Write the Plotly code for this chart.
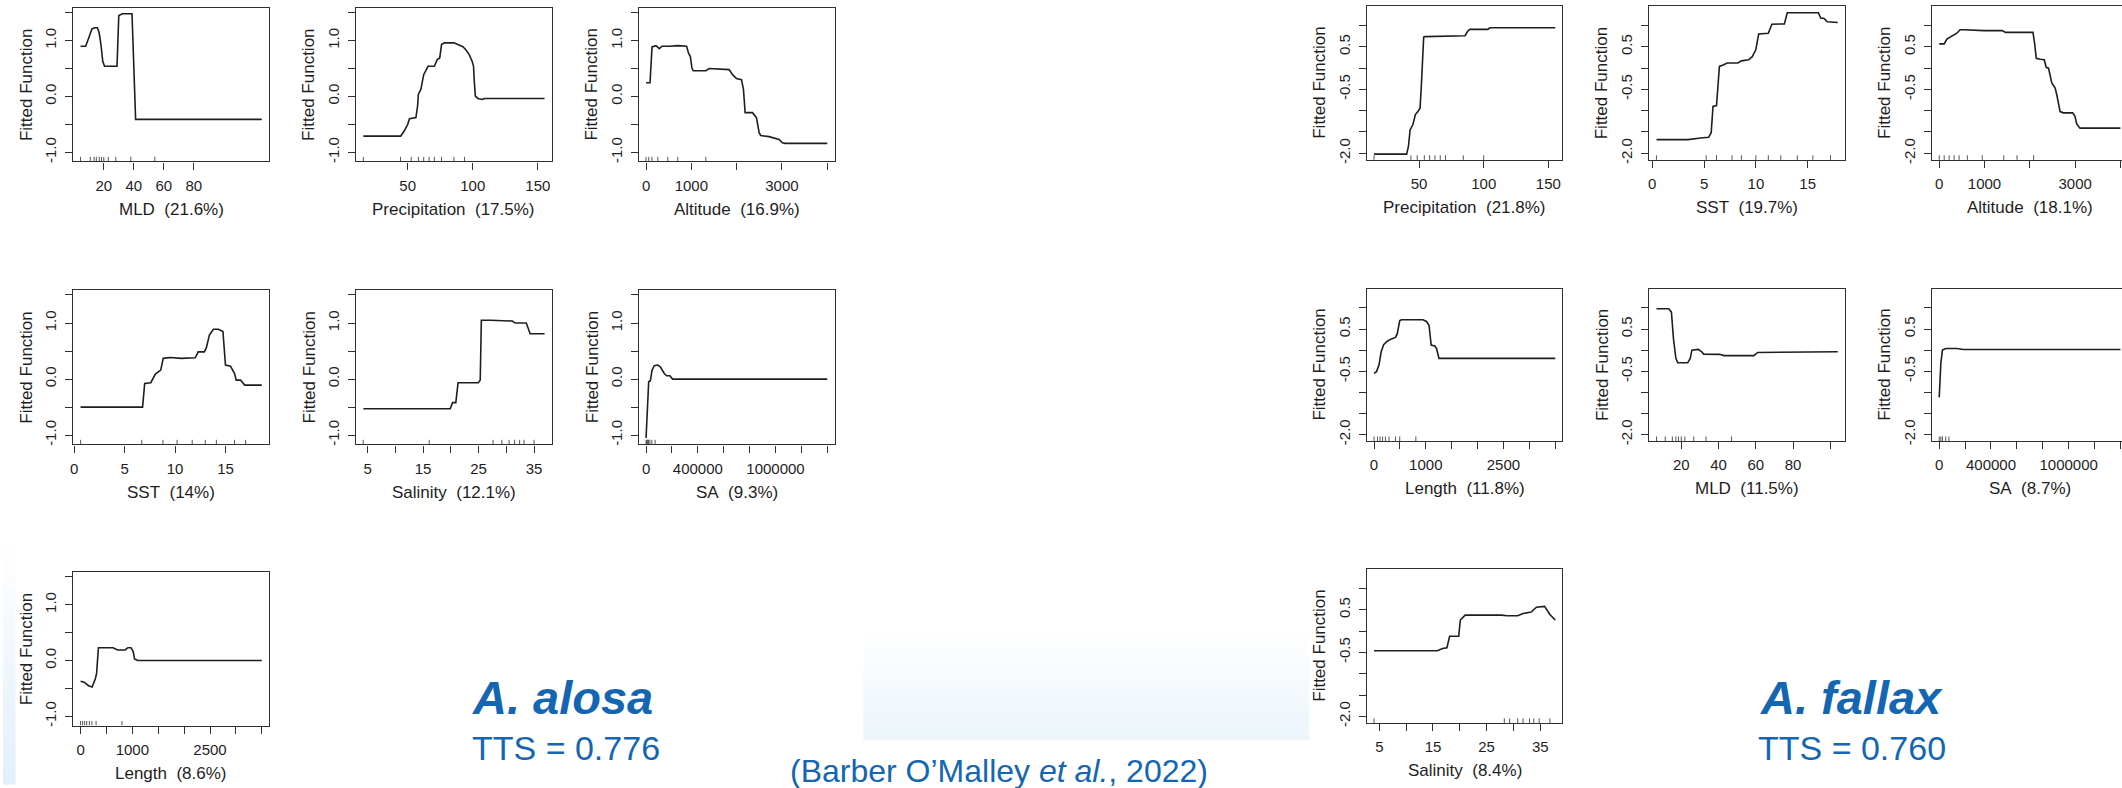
import plotly.graph_objects as go

W, H = 2122, 788

# ---------------- A. alosa : fitted functions ----------------
alosa_mld_x = [4.5, 7.9, 10.0, 11.0, 12.1, 14.0, 15.7, 16.9, 18.1, 19.3, 20.5, 28.8, 30.0, 32.4, 38.8, 41.2, 125.3]
alosa_mld_y = [0.90, 0.90, 1.05, 1.14, 1.21, 1.23, 1.23, 1.14, 0.93, 0.63, 0.54, 0.54, 1.45, 1.48, 1.48, -0.41, -0.41]
alosa_mld_rug = [4.5, 11, 13.5, 15, 17, 18.5, 20, 23, 28, 38, 54]

alosa_precip_x = [15.9, 44.6, 47.3, 50.0, 51.4, 56.3, 57.6, 58.2, 60.1, 62.3, 65.6, 70.5, 72.7, 74.6, 76.0, 78.1,
                  85.5, 88.3, 92.4, 94.5, 97.3, 99.5, 100.6, 101.1, 102.0, 103.9, 107.4, 108.8, 155.2]
alosa_precip_y = [-0.71, -0.71, -0.62, -0.50, -0.40, -0.38, -0.17, 0.04, 0.125, 0.39, 0.54, 0.54, 0.66, 0.69, 0.93, 0.96,
                  0.96, 0.93, 0.89, 0.84, 0.75, 0.63, 0.54, 0.30, 0.006, -0.036, -0.054, -0.036, -0.036]
alosa_precip_rug = [15.9, 44.5, 52.7, 58.2, 62.3, 66.4, 70.5, 76, 85.5, 93.7]

alosa_alt_x = [0, 88, 132, 220, 293, 352, 514, 697, 895, 940, 976, 1013, 1042, 1321, 1394, 1835, 1908, 1996, 2106,
               2150, 2187, 2349, 2437, 2496, 2532, 2716, 2936, 3009, 3068, 4000]
alosa_alt_y = [0.244, 0.244, 0.887, 0.91, 0.857, 0.90, 0.90, 0.91, 0.90, 0.77, 0.72, 0.51, 0.46, 0.46, 0.50, 0.48,
               0.39, 0.32, 0.30, 0.125, -0.29, -0.29, -0.38, -0.65, -0.70, -0.72, -0.77, -0.83, -0.84, -0.84]
alosa_alt_rug = [0, 60, 130, 260, 480, 700, 1320]

alosa_sst_x = [0.63, 6.78, 6.99, 7.59, 8.05, 8.3, 8.58, 8.83, 9.53, 10.6, 12.0, 12.3, 12.9, 13.1, 13.4, 13.8, 14.3,
               14.75, 15.0, 15.5, 15.9, 16.07, 16.5, 16.9, 18.6]
alosa_sst_y = [-0.50, -0.50, -0.077, -0.065, 0.089, 0.13, 0.16, 0.37, 0.385, 0.37, 0.38, 0.485, 0.485, 0.556, 0.78,
               0.89, 0.89, 0.85, 0.25, 0.23, 0.10, -0.018, -0.018, -0.107, -0.107]
alosa_sst_rug = [0.64, 6.7, 8.8, 10.2, 11.7, 13.0, 14.1, 15.9, 17.0]

alosa_sal_x = [4.23, 19.9, 20.3, 20.9, 21.3, 24.97, 25.3, 25.5, 27.2, 31.1, 31.6, 33.6, 34.3, 36.9]
alosa_sal_y = [-0.53, -0.53, -0.42, -0.42, -0.065, -0.065, -0.018, 1.05, 1.05, 1.035, 1.0, 1.0, 0.81, 0.81]
alosa_sal_rug = [4.2, 16.1, 27.6, 29.2, 30.5, 31.5, 32.4, 33.2, 35.0]

alosa_sa_x = [0, 12800, 20500, 33300, 46100, 64000, 89600, 110000, 141000, 159000, 184000, 205000, 1400000]
alosa_sa_y = [-1.05, -0.28, -0.047, -0.03, 0.16, 0.24, 0.25, 0.22, 0.10, 0.06, 0.06, 0.0, 0.0]
alosa_sa_rug = [0, 5000, 10000, 15000, 20000, 30000, 45000, 70000]

alosa_len_x = [0, 69, 155, 224, 284, 310, 345, 629, 716, 862, 914, 974, 1017, 1043, 1103, 3500]
alosa_len_y = [-0.37, -0.386, -0.45, -0.475, -0.33, -0.23, 0.23, 0.23, 0.19, 0.19, 0.23, 0.23, 0.16, 0.03, 0.0, 0.0]
alosa_len_rug = [0, 40, 80, 120, 170, 220, 300, 800]

# ---------------- A. fallax : fitted functions ----------------
fallax_precip_x = [15.2, 40.4, 41.8, 43.1, 45.2, 47.2, 49.1, 50.8, 51.9, 53.6, 54.6, 85.6, 87.5, 89.1, 103.3, 104.7, 155.3]
fallax_precip_y = [-2.02, -2.02, -1.84, -1.45, -1.33, -1.09, -1.02, -0.94, -0.35, 0.73, 0.74, 0.76, 0.86, 0.91, 0.91,
                   0.95, 0.95]
fallax_precip_rug = [15.2, 43.7, 48.6, 54.1, 58.2, 62.3, 66.4, 70.5, 84.2, 100]

fallax_sst_x = [0.41, 3.45, 4.65, 5.44, 5.69, 5.86, 6.2, 6.48, 6.9, 7.24, 8.27, 8.6, 9.3, 9.65, 9.99, 10.27, 11.2,
                11.54, 12.75, 13.03, 16.03, 16.27, 16.55, 16.9, 17.9]
fallax_sst_y = [-1.68, -1.68, -1.64, -1.625, -1.51, -0.90, -0.88, 0.04, 0.08, 0.12, 0.12, 0.17, 0.195, 0.27, 0.43,
                0.80, 0.82, 1.03, 1.04, 1.30, 1.30, 1.17, 1.17, 1.09, 1.07]
fallax_sst_rug = [0.4, 5.2, 6.2, 7.7, 8.6, 10.0, 11.2, 12.4, 14.0, 15.5, 17.2]

fallax_alt_x = [0, 110, 169, 241, 315, 388, 461, 548, 987, 1390, 1462, 1609, 1754, 2069, 2105, 2142, 2230, 2318,
                2361, 2412, 2485, 2559, 2595, 2668, 2741, 2946, 2997, 3035, 3107, 4000]
fallax_alt_y = [0.57, 0.57, 0.68, 0.73, 0.78, 0.82, 0.90, 0.90, 0.88, 0.88, 0.84, 0.84, 0.85, 0.84, 0.59, 0.23, 0.21,
                0.195, 0.02, 0.0, -0.35, -0.47, -0.625, -1.02, -1.05, -1.05, -1.13, -1.31, -1.41, -1.41]
fallax_alt_rug = [0, 110, 219, 329, 439, 621, 950, 1425, 1718, 2083]

fallax_len_x = [0, 48, 97, 138, 186, 255, 324, 414, 449, 497, 531, 945, 1014, 1062, 1104, 1173, 1207, 1255, 3500]
fallax_len_y = [-0.55, -0.51, -0.35, -0.04, 0.13, 0.21, 0.26, 0.30, 0.39, 0.70, 0.72, 0.72, 0.68, 0.59, 0.12, 0.10,
                0.04, -0.195, -0.195]
fallax_len_rug = [0, 69, 117, 166, 221, 290, 414, 497, 808]

fallax_mld_x = [6.7, 13.3, 14.7, 15.8, 17.1, 18.1, 23.4, 24.8, 25.7, 29.1, 31.0, 32.0, 40.6, 42.9, 59.0, 61.0, 104]
fallax_mld_y = [0.98, 0.98, 0.90, 0.27, -0.195, -0.30, -0.30, -0.195, 0.0, 0.016, -0.04, -0.094, -0.10, -0.13, -0.13,
                -0.055, -0.04]
fallax_mld_rug = [6.7, 11.4, 15.2, 17.1, 18.5, 20, 21.9, 26.7, 33.3, 47]

fallax_sa_x = [0, 12500, 25000, 50000, 137500, 187500, 1400000]
fallax_sa_y = [-1.12, -0.31, 0.0, 0.04, 0.04, 0.016, 0.016]
fallax_sa_rug = [0, 12500, 25000, 50000, 75000]

fallax_sal_x = [4.0, 15.8, 16.8, 17.6, 18.1, 19.8, 20.1, 21.0, 27.8, 28.8, 30.8, 31.8, 33.3, 34.3, 35.8, 36.8, 37.8]
fallax_sal_y = [-0.46, -0.46, -0.41, -0.39, -0.12, -0.12, 0.26, 0.375, 0.375, 0.36, 0.36, 0.41, 0.445, 0.56, 0.58,
                0.39, 0.26]
fallax_sal_rug = [4.0, 28.3, 29.3, 30.8, 31.8, 33.0, 33.8, 34.8, 36.8]

# ---------------- tick labels ----------------
alosa_y_ticks = [-1.0, -0.5, 0.0, 0.5, 1.0, 1.5]
alosa_y_labels = ["-1.0", "", "0.0", "", "1.0", ""]
fallax_y_ticks = [-2.0, -1.5, -1.0, -0.5, 0.0, 0.5, 1.0]
fallax_y_labels = ["-2.0", "", "", "-0.5", "", "0.5", ""]

mld_ticks_a = [20, 40, 60, 80]
mld_labels_a = ["20", "40", "60", "80"]
mld_ticks_f = [20, 40, 60, 80, 100]
mld_labels_f = ["20", "40", "60", "80", ""]
precip_ticks = [50, 100, 150]
precip_labels = ["50", "100", "150"]
alt_ticks = [0, 1000, 2000, 3000, 4000]
alt_labels = ["0", "1000", "", "3000", ""]
sst_ticks = [0, 5, 10, 15]
sst_labels = ["0", "5", "10", "15"]
sal_ticks = [5, 10, 15, 20, 25, 30, 35]
sal_labels = ["5", "", "15", "", "25", "", "35"]
sa_ticks = [0, 200000, 400000, 600000, 800000, 1000000, 1200000, 1400000]
sa_labels = ["0", "", "400000", "", "", "1000000", "", ""]
len_ticks = [0, 500, 1000, 1500, 2000, 2500, 3000, 3500]
len_labels = ["0", "", "1000", "", "", "2500", "", ""]

# ---------------- panel layout (pixel boxes) ----------------
ALOSA_YR = [-1.165, 1.585]
FALLAX_YR = [-2.155, 1.46]
LCOL = [70.4, 353.6, 636.7]
RCOL = [1365.7, 1648.6, 1931.7]
BOXW = 196.0
LROW = [(8.0, 162.3), (291.7, 446.7), (575.0, 729.3)]
RROW = [(6.0, 160.7), (290.0, 443.3), (571.7, 726.7)]

panels = [
    (alosa_mld_x, alosa_mld_y, alosa_mld_rug, mld_ticks_a, mld_labels_a, "MLD  (21.6%)", LCOL[0], LROW[0], ALOSA_YR, alosa_y_ticks, alosa_y_labels),
    (alosa_precip_x, alosa_precip_y, alosa_precip_rug, precip_ticks, precip_labels, "Precipitation  (17.5%)", LCOL[1], LROW[0], ALOSA_YR, alosa_y_ticks, alosa_y_labels),
    (alosa_alt_x, alosa_alt_y, alosa_alt_rug, alt_ticks, alt_labels, "Altitude  (16.9%)", LCOL[2], LROW[0], ALOSA_YR, alosa_y_ticks, alosa_y_labels),
    (alosa_sst_x, alosa_sst_y, alosa_sst_rug, sst_ticks, sst_labels, "SST  (14%)", LCOL[0], LROW[1], ALOSA_YR, alosa_y_ticks, alosa_y_labels),
    (alosa_sal_x, alosa_sal_y, alosa_sal_rug, sal_ticks, sal_labels, "Salinity  (12.1%)", LCOL[1], LROW[1], ALOSA_YR, alosa_y_ticks, alosa_y_labels),
    (alosa_sa_x, alosa_sa_y, alosa_sa_rug, sa_ticks, sa_labels, "SA  (9.3%)", LCOL[2], LROW[1], ALOSA_YR, alosa_y_ticks, alosa_y_labels),
    (alosa_len_x, alosa_len_y, alosa_len_rug, len_ticks, len_labels, "Length  (8.6%)", LCOL[0], LROW[2], ALOSA_YR, alosa_y_ticks, alosa_y_labels),
    (fallax_precip_x, fallax_precip_y, fallax_precip_rug, precip_ticks, precip_labels, "Precipitation  (21.8%)", RCOL[0], RROW[0], FALLAX_YR, fallax_y_ticks, fallax_y_labels),
    (fallax_sst_x, fallax_sst_y, fallax_sst_rug, sst_ticks, sst_labels, "SST  (19.7%)", RCOL[1], RROW[0], FALLAX_YR, fallax_y_ticks, fallax_y_labels),
    (fallax_alt_x, fallax_alt_y, fallax_alt_rug, alt_ticks, alt_labels, "Altitude  (18.1%)", RCOL[2], RROW[0], FALLAX_YR, fallax_y_ticks, fallax_y_labels),
    (fallax_len_x, fallax_len_y, fallax_len_rug, len_ticks, len_labels, "Length  (11.8%)", RCOL[0], RROW[1], FALLAX_YR, fallax_y_ticks, fallax_y_labels),
    (fallax_mld_x, fallax_mld_y, fallax_mld_rug, mld_ticks_f, mld_labels_f, "MLD  (11.5%)", RCOL[1], RROW[1], FALLAX_YR, fallax_y_ticks, fallax_y_labels),
    (fallax_sa_x, fallax_sa_y, fallax_sa_rug, sa_ticks, sa_labels, "SA  (8.7%)", RCOL[2], RROW[1], FALLAX_YR, fallax_y_ticks, fallax_y_labels),
    (fallax_sal_x, fallax_sal_y, fallax_sal_rug, sal_ticks, sal_labels, "Salinity  (8.4%)", RCOL[0], RROW[2], FALLAX_YR, fallax_y_ticks, fallax_y_labels),
]

FONT = "Arial, Liberation Sans, sans-serif"
NARROW = "Liberation Sans Narrow, Arial Narrow, Arial, sans-serif"
INK = "#1e1e1e"
FRAME = "#303030"
BLUE = "#1466b2"

fig = go.Figure()
layout = dict(
    width=W, height=H, margin=dict(l=0, r=0, t=0, b=0),
    paper_bgcolor="white", plot_bgcolor="white", showlegend=False,
    font=dict(family=FONT, color=INK),
)
annotations = []
shapes = []


def fx(p):
    return p / W


def fy(p):
    return 1 - p / H


for i, (xs, ys, rug, xt, xl, title, left, (top, bot), yr, yt, yl) in enumerate(panels, start=1):
    sfx = "" if i == 1 else str(i)
    # R-style 4% extension of the data range
    lo, hi = min(xs), max(xs)
    pad = 0.04 * (hi - lo)
    xr = [lo - pad, hi + pad]
    right = left + BOXW
    box_cx = left + BOXW / 2
    clipped = right > W
    if clipped:
        frac = (W - left) / BOXW
        xr = [xr[0], xr[0] + frac * (xr[1] - xr[0])]
        right = W

    layout["xaxis" + sfx] = dict(
        domain=[fx(left), fx(right)], anchor="y" + sfx, range=xr,
        showline=True, linecolor=FRAME, linewidth=1.4, mirror=True,
        ticks="outside", ticklen=7, tickwidth=1.2, tickcolor=FRAME,
        tickmode="array", tickvals=xt, ticktext=xl,
        tickfont=dict(size=15, family=FONT, color=INK), ticklabelstandoff=3,
        showgrid=False, zeroline=False,
    )
    layout["yaxis" + sfx] = dict(
        domain=[fy(bot), fy(top)], anchor="x" + sfx, range=yr,
        showline=True, linecolor=FRAME, linewidth=1.4, mirror=not clipped,
        ticks="outside", ticklen=7, tickwidth=1.2, tickcolor=FRAME,
        tickmode="array", tickvals=yt, ticktext=yl, tickangle=-90,
        tickfont=dict(size=15, family=FONT, color=INK), ticklabelstandoff=3,
        showgrid=False, zeroline=False,
    )

    # fitted function
    fig.add_trace(go.Scatter(
        x=xs, y=ys, mode="lines", xaxis="x" + sfx, yaxis="y" + sfx,
        line=dict(color=INK, width=1.6), hoverinfo="skip",
    ))
    # rug of predictor deciles along the bottom
    rh = 0.03 * (yr[1] - yr[0])
    rx, ry = [], []
    for v in rug:
        rx += [v, v, None]
        ry += [yr[0], yr[0] + rh, None]
    fig.add_trace(go.Scatter(
        x=rx, y=ry, mode="lines", xaxis="x" + sfx, yaxis="y" + sfx,
        line=dict(color="#555555", width=1), hoverinfo="skip",
    ))

    annotations.append(dict(
        text="Fitted Function", xref="paper", yref="paper",
        x=fx(left - 47), y=fy((top + bot) / 2), textangle=-90,
        showarrow=False, xanchor="center", yanchor="middle",
        font=dict(size=17, family=FONT, color=INK),
    ))
    annotations.append(dict(
        text=title.replace("  ", "\u00a0 "), xref="paper", yref="paper",
        x=fx(box_cx), y=fy(bot + 48), showarrow=False,
        xanchor="center", yanchor="middle",
        font=dict(size=17, family=FONT, color=INK),
    ))

# species labels and skill scores
annotations += [
    dict(text="<b><i>A. alosa</i></b>", x=fx(468), y=fy(701), xanchor="left", yanchor="middle",
         font=dict(size=47, family=FONT, color=BLUE)),
    dict(text="TTS = 0.776", x=fx(468), y=fy(752), xanchor="left", yanchor="middle",
         font=dict(size=34, family=FONT, color=BLUE)),
    dict(text="<b><i>A. fallax</i></b>", x=fx(1757), y=fy(701), xanchor="left", yanchor="middle",
         font=dict(size=47, family=FONT, color=BLUE)),
    dict(text="TTS = 0.760", x=fx(1755), y=fy(752), xanchor="left", yanchor="middle",
         font=dict(size=34, family=FONT, color=BLUE)),
    dict(text="(Barber O\u2019Malley <i>et al.</i>, 2022)", x=fx(786), y=fy(775), xanchor="left",
         yanchor="middle", font=dict(size=32, family=NARROW, color=BLUE)),
]
for a in annotations[-5:]:
    a.update(xref="paper", yref="paper", showarrow=False)


def gradient(x0, x1, y0, y1, c_top, c_bot, n=24):
    for k in range(n):
        t = (k + 0.5) / n
        col = tuple(round(c_top[j] + (c_bot[j] - c_top[j]) * t) for j in range(3))
        ya = y0 + (y1 - y0) * k / n
        yb = y0 + (y1 - y0) * (k + 1) / n + 0.6
        shapes.append(dict(
            type="rect", xref="paper", yref="paper", layer="below",
            x0=fx(x0), x1=fx(x1), y0=fy(yb), y1=fy(ya),
            fillcolor="rgb(%d,%d,%d)" % col, line=dict(width=0),
        ))


# soft background panels
gradient(861.6, 1308, 628.3, 743.3, (255, 255, 255), (236, 245, 251))
gradient(0, 12.5, 540, 788, (255, 255, 255), (226, 239, 250))

layout["annotations"] = annotations
layout["shapes"] = shapes
fig.update_layout(**layout)
fig.write_html("out.html")
